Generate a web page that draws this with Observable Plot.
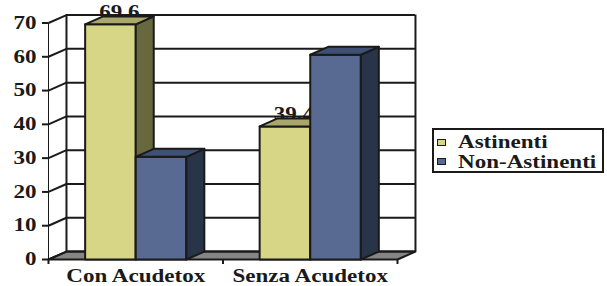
<!DOCTYPE html>
<html><head><meta charset="utf-8">
<script src="https://cdn.jsdelivr.net/npm/d3@7"></script>
<script src="https://cdn.jsdelivr.net/npm/@observablehq/plot@0.6"></script>
<style>
body{margin:0;background:#fff;}
#wrap{position:relative;width:607px;height:286px;}
#legend{position:absolute;left:432px;top:128px;width:168px;height:41px;border:2px solid #1a1a1a;background:#fff;
  font-family:"Liberation Serif","Times New Roman",serif;font-weight:bold;font-size:18px;color:#1a1a1a;}
.item{position:absolute;left:3px;height:20px;display:flex;align-items:center;}
.sw{width:7px;height:5px;border:1.5px solid #1a1a1a;margin-right:12px;flex:none;}
.lab{display:inline-block;transform:scaleX(1.28);transform-origin:left center;white-space:nowrap;line-height:20px;}
</style></head><body><div id="wrap"><div id="legend"></div></div>
<script>
const categories = ["Con Acudetox", "Senza Acudetox"];
const series = ["Astinenti", "Non-Astinenti"];
const astinenti = [69.6, 39.4];
const nonAstinenti = [30.4, 60.6];
const dataLabels = ["69,6", "39,4"];
const yTicks = [0, 10, 20, 30, 40, 50, 60, 70];

const pal = [
  {front: "#d6d686", side: "#68683f", top: "#a9a86a"},
  {front: "#586a92", side: "#283448", top: "#3e5073"}
];
const INK = "#1a1a1a";
const DX = 0.103, DY = 2.35, BW = 0.29;
const FONT = '"Liberation Serif","Times New Roman",serif';

// geometry for bars (in data coordinates)
const bars = [];
categories.forEach((c, i) => {
  const cx = i + 0.5;
  [astinenti[i], nonAstinenti[i]].forEach((v, j) => {
    const x0 = cx - BW + j * BW;
    bars.push({x0, x1: x0 + BW, v, s: j});
  });
});
let pid = 0;
function poly(arr, pts, fill) { const id = pid++; pts.forEach(([x, y]) => arr.push({id, x, y, fill})); }
const floor = [];
poly(floor, [[0, 0], [2, 0], [2 + DX, DY], [DX, DY]], "#858585");
const barPolys = [];
bars.forEach(b => {
  poly(barPolys, [[b.x0, 0], [b.x1, 0], [b.x1, b.v], [b.x0, b.v]], pal[b.s].front);
  poly(barPolys, [[b.x1, 0], [b.x1 + DX, DY], [b.x1 + DX, b.v + DY], [b.x1, b.v]], pal[b.s].side);
  poly(barPolys, [[b.x0, b.v], [b.x1, b.v], [b.x1 + DX, b.v + DY], [b.x0 + DX, b.v + DY]], pal[b.s].top);
});
const labelPts = categories.map((c, i) => ({x: i + 0.5 - BW / 2 + DX / 2, y: astinenti[i] + DY, t: dataLabels[i]}));

const chart = Plot.plot({
  width: 607, height: 286,
  marginLeft: 48, marginRight: 210, marginTop: 22.5, marginBottom: 27,
  style: {fontFamily: FONT, fontSize: "18px", fontWeight: "bold", color: INK, background: "#fff"},
  color: {type: "identity"},
  x: {domain: [0, 2], ticks: [0, 1, 2], tickFormat: () => "", tickSize: 5, label: null, line: true},
  y: {domain: [0, 70], ticks: yTicks, tickSize: 6, tickPadding: 6, label: null, line: true},
  marks: [
    Plot.line(floor, {x: "x", y: "y", z: "id", fill: "fill", stroke: INK, strokeWidth: 2, curve: "linear-closed"}),
    Plot.ruleY(yTicks, {y: d => d + DY, x1: DX, x2: 2 + DX, stroke: INK, strokeWidth: 2}),
    Plot.link(yTicks, {x1: 0, y1: d => d, x2: DX, y2: d => d + DY, stroke: INK, strokeWidth: 2}),
    Plot.ruleX([DX, 2 + DX], {y1: DY, y2: 70 + DY, stroke: INK, strokeWidth: 2}),
    Plot.text(labelPts, {x: "x", y: "y", dy: -4, text: "t", fill: INK, fontSize: 18, fontWeight: "bold", fontFamily: FONT}),
    Plot.line(barPolys, {x: "x", y: "y", z: "id", fill: "fill", stroke: INK, strokeWidth: 2, curve: "linear-closed"}),
    Plot.text(categories, {x: (d, i) => i + 0.5, y: 0, dy: 17, text: d => d, fill: INK, fontSize: 18, fontWeight: "bold", fontFamily: FONT})
  ]
});
document.getElementById("wrap").prepend(chart);
chart.querySelectorAll("text").forEach(t => {
  const w = t.getComputedTextLength();
  if (w > 0) { t.setAttribute("textLength", w * 1.28); t.setAttribute("lengthAdjust", "spacingAndGlyphs"); }
});
chart.querySelectorAll("[aria-label='x-axis tick'] path, [aria-label='y-axis tick'] path, [aria-label='x-axis line'] line, [aria-label='y-axis line'] line").forEach(p => p.setAttribute("stroke-width", 2));

const legend = document.getElementById("legend");
series.forEach((s, j) => {
  const it = document.createElement("div");
  it.className = "item";
  it.style.top = (2 + j * 19.5) + "px";
  it.innerHTML = `<span class="sw" style="background:${pal[j].front}"></span><span class="lab">${s}</span>`;
  legend.appendChild(it);
});
</script>
</body></html>
